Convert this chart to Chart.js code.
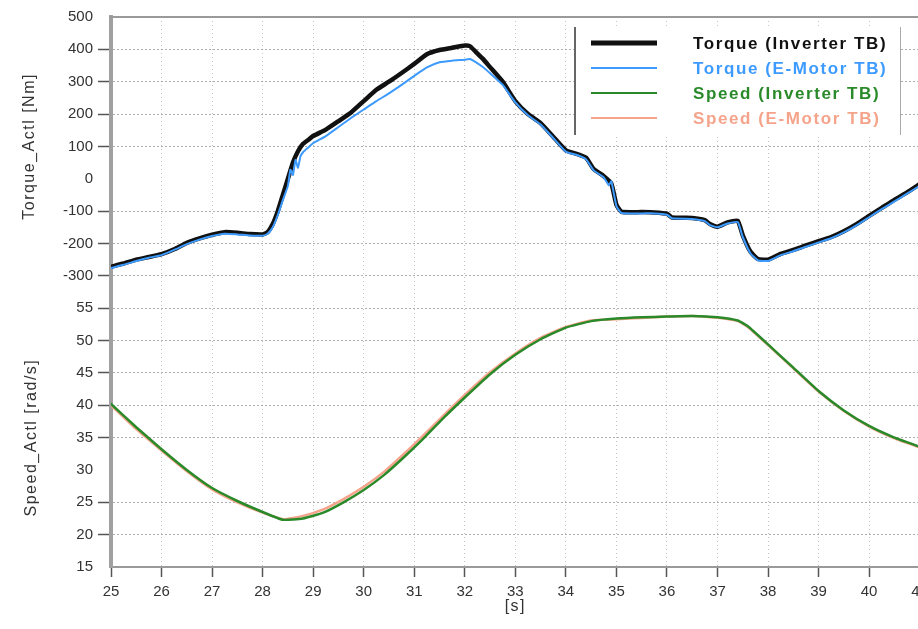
<!DOCTYPE html>
<html>
<head>
<meta charset="utf-8">
<script src="https://cdn.jsdelivr.net/npm/chart.js@4.4.1/dist/chart.umd.min.js"></script>
<style>
  html, body { margin: 0; padding: 0; background: #fff; overflow: hidden; width: 918px; height: 629px; }
  canvas { display: block; }
</style>
</head>
<body>
<canvas id="c" width="934" height="629"></canvas>
<script>
// Torque measured by the inverter test bench [Nm]
const tqInvTime = [25.0, 25.25, 25.5, 25.75, 26.0, 26.25, 26.5, 26.75, 27.0, 27.25, 27.5, 27.75, 28.0, 28.1, 28.2, 28.3, 28.4, 28.5, 28.6, 28.7, 28.8, 28.9, 29.0, 29.25, 29.5, 29.75, 30.0, 30.25, 30.5, 30.75, 31.0, 31.25, 31.5, 31.75, 32.0, 32.1, 32.2, 32.35, 32.5, 32.75, 33.0, 33.25, 33.5, 33.75, 34.0, 34.25, 34.4, 34.55, 34.75, 34.9, 35.0, 35.1, 35.5, 35.75, 36.0, 36.1, 36.5, 36.75, 36.85, 37.0, 37.2, 37.4, 37.5, 37.65, 37.8, 38.0, 38.25, 38.5, 38.75, 39.0, 39.25, 39.5, 39.75, 40.0, 40.25, 40.5, 40.75, 41.0];
const tqInv     = [-272, -262, -250, -242, -233, -218, -198, -184, -173, -165, -167, -171, -172, -165, -140, -100, -50, 0, 50, 85, 108, 120, 132, 152, 178, 205, 240, 275, 300, 327, 355, 385, 398, 405, 412, 410, 395, 372, 345, 300, 240, 200, 172, 130, 88, 75, 65, 30, 8, -15, -80, -102, -103, -104, -108, -120, -121, -128, -140, -148, -135, -130, -175, -225, -248, -250, -232, -220, -206, -193, -180, -162, -140, -115, -90, -65, -42, -17];

// Torque measured by the e-motor test bench [Nm]
const tqMotTime = [25.0, 25.25, 25.5, 25.75, 26.0, 26.25, 26.5, 26.75, 27.0, 27.25, 27.5, 27.75, 28.0, 28.1, 28.2, 28.3, 28.4, 28.5, 28.55, 28.6, 28.65, 28.7, 28.75, 28.8, 28.9, 29.0, 29.25, 29.5, 29.75, 30.0, 30.25, 30.5, 30.75, 31.0, 31.25, 31.5, 31.75, 32.0, 32.1, 32.2, 32.35, 32.5, 32.75, 33.0, 33.25, 33.5, 33.75, 34.0, 34.25, 34.4, 34.55, 34.75, 34.85, 34.9, 35.0, 35.1, 35.5, 35.75, 36.0, 36.1, 36.5, 36.75, 36.85, 37.0, 37.2, 37.4, 37.5, 37.65, 37.8, 38.0, 38.25, 38.5, 38.75, 39.0, 39.25, 39.5, 39.75, 40.0, 40.25, 40.5, 40.75, 41.0];
const tqMot     = [-276, -266, -254, -244, -236, -220, -202, -188, -177, -170, -172, -175, -176, -170, -150, -112, -66, -22, 28, 12, 58, 34, 70, 82, 96, 110, 132, 160, 188, 214, 240, 264, 290, 318, 344, 360, 365, 368, 370, 362, 346, 326, 290, 236, 196, 168, 126, 84, 72, 60, 26, 4, -20, -8, -84, -106, -107, -107, -111, -122, -124, -131, -143, -150, -138, -134, -180, -230, -252, -254, -236, -224, -210, -197, -184, -166, -144, -119, -94, -70, -46, -22];

// Speed measured by the inverter test bench [rad/s]
const spdInvTime = [25.0, 25.5, 26.0, 26.5, 27.0, 27.5, 28.0, 28.4, 28.8, 29.2, 29.6, 30.0, 30.4, 30.8, 31.2, 31.6, 32.0, 32.5, 33.0, 33.5, 34.0, 34.5, 35.0, 35.5, 36.0, 36.5, 37.0, 37.4, 37.6, 38.0, 38.5, 39.0, 39.5, 40.0, 40.5, 41.0];
const spdInv     = [40.2, 36.6, 33.2, 30.0, 27.2, 25.2, 23.5, 22.3, 22.5, 23.4, 25.0, 26.9, 29.2, 32.0, 35.0, 38.2, 41.2, 44.8, 47.8, 50.2, 52.0, 53.0, 53.4, 53.6, 53.7, 53.8, 53.6, 53.1, 52.2, 49.4, 45.8, 42.2, 39.2, 36.8, 35.0, 33.6];

// Speed measured by the e-motor test bench [rad/s]
const spdMotTime = [25.0, 25.5, 26.0, 26.5, 27.0, 27.5, 28.0, 28.4, 28.8, 29.2, 29.6, 30.0, 30.4, 30.8, 31.2, 31.6, 32.0, 32.5, 33.0, 33.5, 34.0, 34.5, 35.0, 35.5, 36.0, 36.5, 37.0, 37.4, 37.6, 38.0, 38.5, 39.0, 39.5, 40.0, 40.5, 41.0];
const spdMot     = [40.0, 36.3, 33.0, 29.8, 27.0, 25.0, 23.4, 22.4, 22.9, 23.9, 25.5, 27.4, 29.7, 32.5, 35.5, 38.6, 41.6, 45.1, 48.0, 50.4, 52.1, 53.1, 53.3, 53.5, 53.7, 53.8, 53.5, 53.0, 52.1, 49.3, 45.7, 42.1, 39.1, 36.7, 34.9, 33.5];

const seriesNames = ['Torque (Inverter TB)', 'Torque (E-Motor TB)', 'Speed (Inverter TB)', 'Speed (E-Motor TB)'];
const seriesColors = ['#111111', '#3d9bff', '#2a8a2a', '#f5a38a'];

const timeRange = [25, 41];
const torqueRange = [-300, 500];
const speedRange = [15, 60];

const FONT = '"Liberation Sans", Arial, sans-serif';
const pts = (t, v) => t.map((x, i) => ({ x, y: v[i] }));
const clear = 'rgba(0,0,0,0)';

// Frame top line, rotated axis titles, x title and the boxed legend
const decorations = {
  id: 'decorations',
  afterDraw(chart) {
    const { ctx, chartArea: a, scales } = chart;
    ctx.save();
    ctx.strokeStyle = '#9a9a9a';
    ctx.lineWidth = 2;
    ctx.beginPath();
    ctx.moveTo(a.left - 2, a.top);
    ctx.lineTo(a.right + 10, a.top);
    ctx.stroke();

    ctx.fillStyle = '#333';
    ctx.font = '16px ' + FONT;
    ctx.letterSpacing = '1.5px';
    ctx.textAlign = 'center';
    ctx.textBaseline = 'middle';
    const rot = (txt, x, y) => {
      ctx.save(); ctx.translate(x, y); ctx.rotate(-Math.PI / 2); ctx.fillText(txt, 0, 0); ctx.restore();
    };
    rot('Torque_Actl [Nm]', 30, scales.yTorque.getPixelForValue(100));
    rot('Speed_Actl [rad/s]', 32, scales.ySpeed.getPixelForValue(35));
    ctx.fillText('[s]', (a.left + a.right) / 2, 607);

    // legend box
    const lx = a.left + 464, ly = a.top + 10, lw = 325, lh = 108;
    ctx.fillStyle = '#fff';
    ctx.fillRect(lx, ly, lw, lh);
    ctx.strokeStyle = '#666'; ctx.lineWidth = 2;
    ctx.beginPath(); ctx.moveTo(lx, ly); ctx.lineTo(lx, ly + lh); ctx.stroke();
    ctx.strokeStyle = '#aaa'; ctx.lineWidth = 1;
    ctx.beginPath(); ctx.moveTo(lx + lw + 0.5, ly); ctx.lineTo(lx + lw + 0.5, ly + lh); ctx.stroke();

    ctx.font = 'bold 17px ' + FONT;
    ctx.letterSpacing = '1.6px';
    ctx.textAlign = 'left';
    chart.data.datasets.forEach((ds, i) => {
      const y = ly + 16 + i * 25;
      ctx.strokeStyle = ds.borderColor;
      ctx.lineWidth = i === 0 ? 5 : 2;
      ctx.beginPath(); ctx.moveTo(lx + 16, y); ctx.lineTo(lx + 82, y); ctx.stroke();
      ctx.fillStyle = ds.borderColor;
      ctx.fillText(ds.label, lx + 118, y + 1);
    });
    ctx.restore();
  }
};

const hGrid = 'rgba(120,120,120,0.6)';
const tickMark = '#555';

new Chart(document.getElementById('c'), {
  type: 'line',
  data: {
    datasets: [
      { label: seriesNames[0], data: pts(tqInvTime, tqInv), yAxisID: 'yTorque', borderColor: seriesColors[0], borderWidth: 4.5, order: 4 },
      { label: seriesNames[1], data: pts(tqMotTime, tqMot), yAxisID: 'yTorque', borderColor: seriesColors[1], borderWidth: 2, order: 3 },
      { label: seriesNames[2], data: pts(spdInvTime, spdInv), yAxisID: 'ySpeed', borderColor: seriesColors[2], borderWidth: 2.5, order: 1 },
      { label: seriesNames[3], data: pts(spdMotTime, spdMot), yAxisID: 'ySpeed', borderColor: seriesColors[3], borderWidth: 2.5, order: 2 }
    ]
  },
  options: {
    responsive: false,
    animation: false,
    parsing: false,
    elements: { point: { radius: 0 }, line: { tension: 0.15, borderCapStyle: 'round', borderJoinStyle: 'round' } },
    layout: { padding: { top: 17, left: 0, right: 0, bottom: 0 } },
    plugins: { legend: { display: false }, tooltip: { enabled: false } },
    scales: {
      x: {
        type: 'linear', min: timeRange[0], max: timeRange[1],
        ticks: { stepSize: 1, autoSkip: false, color: '#333', font: { family: FONT, size: 15 }, padding: 6, maxRotation: 0 },
        grid: { color: 'rgba(150,150,150,0.55)', tickLength: 10, tickColor: tickMark, tickWidth: 1.5 },
        border: { display: true, color: '#9a9a9a', width: 2, dash: [1, 3] },
        afterFit: s => { s.height = 62; }
      },
      ySpeed: {
        type: 'linear', position: 'left', stack: 'main', stackWeight: 9,
        min: speedRange[0], max: speedRange[1],
        ticks: { stepSize: 5, autoSkip: false, color: '#333', font: { family: FONT, size: 15 }, padding: 5,
                 callback: v => (v === 60 ? '' : v) },
        grid: {
          color: c => ([15, 30, 60].includes(c.tick && c.tick.value) ? clear : hGrid),
          tickColor: c => ([15, 30, 60].includes(c.tick && c.tick.value) ? clear : tickMark),
          tickLength: 13, tickWidth: 1.5
        },
        border: { display: true, color: '#a0a0a0', width: 4, dash: [2, 2] },
        afterFit: s => { s.width = 111; }
      },
      yTorque: {
        type: 'linear', position: 'left', stack: 'main', stackWeight: 8,
        min: torqueRange[0], max: torqueRange[1],
        ticks: { stepSize: 100, autoSkip: false, color: '#333', font: { family: FONT, size: 15 }, padding: 5 },
        grid: {
          color: c => ([0, 500].includes(c.tick && c.tick.value) ? clear : hGrid),
          tickColor: c => ([0, 500].includes(c.tick && c.tick.value) ? clear : tickMark),
          tickLength: 13, tickWidth: 1.5
        },
        border: { display: true, color: '#a0a0a0', width: 4, dash: [2, 2] },
        afterFit: s => { s.width = 111; }
      }
    }
  },
  plugins: [decorations]
});
</script>
</body>
</html>
